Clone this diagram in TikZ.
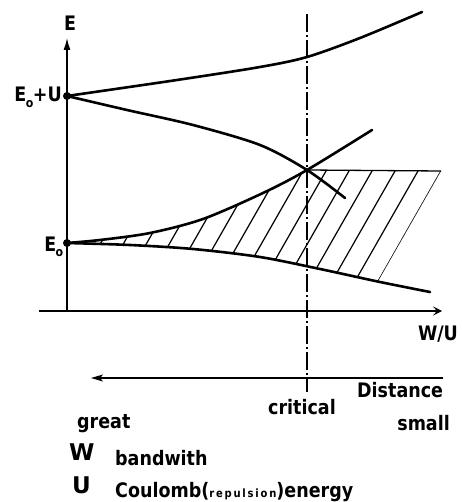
\documentclass[tikz,border=0pt]{standalone}
\usepackage{fontspec}
\setmainfont{DejaVu Sans}
\usetikzlibrary{arrows.meta}
\newcommand{\T}[1]{\scalebox{1}[1.14]{#1}}
\begin{document}
\begin{tikzpicture}[x=1pt,y=-1pt,
  curve/.style={line width=2.6pt, line cap=round},
  axisline/.style={line width=1.3pt},
  hatchline/.style={line width=1.2pt},
  dot/.style={circle, fill, inner sep=0pt, minimum size=8pt},
  lbl/.style={font=\fontsize{17.5}{18}\selectfont\bfseries, inner sep=0pt},
  big/.style={font=\fontsize{23}{24}\selectfont\bfseries, inner sep=0pt},
]
\useasboundingbox (0,0) rectangle (461,502);
\newcommand{\subo}{\kern-0.5pt\raisebox{-4.5pt}{\fontsize{11}{11}\selectfont o}\kern-0.5pt}

% named points
\coordinate (ybot) at (67,311);
\coordinate (ytop) at (67,38);
\coordinate (xl) at (39,311);
\coordinate (xr) at (442,311);
\coordinate (crtop) at (307,14);
\coordinate (crbot) at (307,392);
\coordinate (dr) at (443,378);
\coordinate (dl) at (91,378);
\coordinate (X) at (307,170);
\coordinate (H) at (441,171);

% hatching
\begin{scope}
  \clip plot[smooth] coordinates {(67,243) (130,245) (193,249) (260,257) (320,269) (380,282) (430,292)}
        -- (470,300) -- (470,0) -- (67,0) -- cycle;
  \clip plot[smooth] coordinates {(67,243) (100,240) (150,233) (203,219) (263,193) (307,170)}
        -- (H) -- (326.7,371) -- (67,371) -- cycle;
  \foreach \k in {0,...,18} {
    \pgfmathsetmacro{\xo}{441-23*\k}
    \draw[hatchline] (\xo+63.4,60) -- (\xo-73.7,300);
  }
\end{scope}

% axes
\draw[axisline, -{Latex[length=12pt,width=7pt]}] (ybot) -- (ytop);
\draw[axisline, -{Stealth[length=9pt,width=9pt,inset=4pt]}] (xl) -- (xr);

% critical line
\draw[line width=1.1pt, dash pattern=on 18pt off 3pt on 2pt off 3pt] (crtop) -- (crbot);

% distance arrow
\draw[axisline, -{Stealth[length=12pt,width=7pt,inset=3pt]}] (dr) -- (dl);

% dots
\node[dot] (EU) at (67,96) {};
\node[dot] (E0) at (67,243) {};

% curves
\draw[curve] plot[smooth] coordinates {(67,96) (177,80) (260,67) (307,57) (360,38) (422,12)};
\draw[curve] plot[smooth] coordinates {(67,96) (127,110) (193,125) (260,145) (307,170) (345,198)};
\draw[curve] plot[smooth] coordinates {(67,243) (100,240) (150,233) (203,219) (263,193) (307,170) (372,130)};
\draw[curve] plot[smooth] coordinates {(67,243) (130,245) (193,249) (260,257) (320,269) (380,282) (430,292)};
\draw[axisline] (X) -- (H);

% labels
\node[lbl, anchor=base] (lE) at (70,31) {\T{E}};
\node[lbl, anchor=base east] (lEU) at (62,102) {\T{E\subo+U}};
\node[lbl, anchor=base east] (lE0) at (63,251) {\T{E\subo}};
\node[lbl, anchor=base] (lWU) at (438,340) {\T{W/U}};
\node[lbl, anchor=base west] (ldist) at (357,397) {\T{Distance}};
\node[lbl, anchor=base] (lcrit) at (302,414) {\T{critical}};
\node[lbl, anchor=base west] (lgreat) at (77,428) {\T{great}};
\node[lbl, anchor=base east] (lsmall) at (450,430) {\T{small}};
\node[big, anchor=base west] (lW) at (69,460) {W};
\node[lbl, anchor=base west] (lband) at (115,465) {\T{bandwith}};
\node[big, anchor=base west] (lU) at (72,493) {U};
\node[lbl, anchor=base west] (lcoul) at (115,497) {\T{Coulomb({\fontsize{10}{10}\selectfont\addfontfeature{LetterSpace=18}repulsion})energy}};
\end{tikzpicture}
\end{document}
